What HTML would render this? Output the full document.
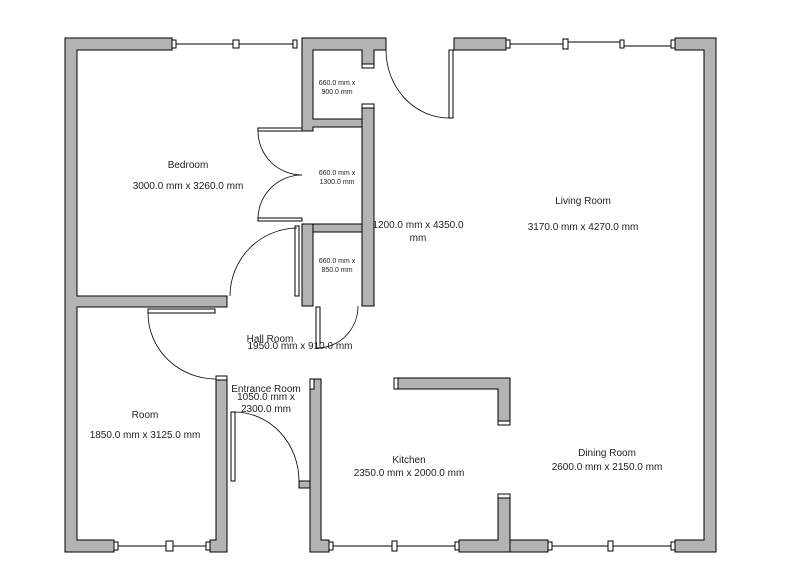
<!DOCTYPE html>
<html><head><style>body{margin:0;background:#fff}svg{display:block}text{font-family:"Liberation Sans",sans-serif;fill:#222;text-anchor:middle}</style></head><body>
<svg width="800" height="579" viewBox="0 0 800 579">
<g fill="#b3b3b3" stroke="#000" stroke-width="1">
<!-- outer left + top bedroom -->
<path d="M65,38 H172 V50 H77 V296 H227 V307 H77 V540 H114 V552 H65 Z"/>
<!-- closet block -->
<path d="M302,38 H386 V50 H374 V68 H362 V50 H313 V119 H362 V127 H313 V131 H302 Z"/>
<rect x="362" y="108" width="12" height="198"/>
<rect x="313" y="224" width="49" height="8"/>
<rect x="302" y="224" width="11" height="82"/>
<!-- top right -->
<rect x="454" y="38" width="52" height="12"/>
<path d="M675,38 H716 V552 H675 V540 H704 V50 H675 Z"/>
<!-- room/entrance wall -->
<path d="M216,379 H227 V552 H210 V540 H216 Z"/>
<path d="M310,379 H321 V540 H329 V552 H310 Z"/>
<!-- bottom kitchen/dining -->
<path d="M459,540 H498 V494 H510 V540 H548 V552 H459 Z"/>
<line x1="510" y1="540" x2="510" y2="552"/>
<!-- counter -->
<path d="M394,378 H510 V425 H498 V389 H394 Z"/>
</g>
<g fill="#fff" stroke="#000" stroke-width="1">
<rect x="362" y="104" width="12" height="4"/>
<rect x="498" y="421" width="12" height="4"/>
<rect x="498" y="494" width="12" height="4"/>
<rect x="394" y="378" width="4" height="11"/>
<rect x="362" y="64" width="12" height="4"/>
<rect x="216" y="376" width="11" height="4"/>
<rect x="310" y="379" width="4" height="10" fill="#fff"/>
<!-- door leaves -->
<rect x="449" y="50" width="4" height="68"/>
<rect x="258" y="128" width="44" height="3"/>
<rect x="258" y="218" width="44" height="3"/>
<rect x="295" y="226" width="4" height="70"/>
<rect x="148" y="309" width="67" height="4"/>
<rect x="231" y="412" width="4" height="69"/>
<rect x="316" y="307" width="4" height="41"/>
<rect x="299" y="481" width="11" height="7" fill="#b3b3b3"/>
</g>
<g fill="none" stroke="#000" stroke-width="0.8">
<path d="M386,50 A63,68 0 0 0 449,118"/>
<path d="M258,131 A44,44 0 0 0 302,175"/>
<path d="M258,218 A44,44 0 0 1 302,175"/>
<path d="M297,228 A68,68 0 0 0 230,296"/>
<path d="M148,313 A68,66 0 0 0 216,379"/>
<path d="M235,412 A65,69 0 0 1 299,481"/>
<path d="M318,348 A41,42 0 0 0 358,306"/>
</g>
<!-- windows -->
<g stroke="#000" stroke-width="1" fill="#fff">
<line x1="172" y1="44" x2="297" y2="44"/>
<rect x="172" y="40" width="4" height="8"/><rect x="233" y="40" width="6" height="8"/><rect x="293" y="40" width="4" height="8"/>
<line x1="506" y1="44" x2="565" y2="44"/><line x1="565" y1="42" x2="620" y2="42"/><line x1="620" y1="46" x2="675" y2="46"/>
<rect x="506" y="40" width="4" height="8"/><rect x="563" y="39" width="5" height="10"/><rect x="620" y="40" width="4" height="8"/><rect x="671" y="40" width="4" height="8"/>
<line x1="114" y1="546" x2="210" y2="546"/>
<rect x="114" y="542" width="4" height="8"/><rect x="166" y="541" width="7" height="10"/><rect x="206" y="542" width="4" height="8"/>
<line x1="329" y1="546" x2="459" y2="546"/>
<rect x="329" y="542" width="4" height="8"/><rect x="392" y="541" width="5" height="10"/><rect x="455" y="542" width="4" height="8"/>
<line x1="548" y1="546" x2="675" y2="546"/>
<rect x="548" y="542" width="4" height="8"/><rect x="608" y="541" width="5" height="10"/><rect x="671" y="542" width="4" height="8"/>
</g>
<g font-size="10">
<text x="188" y="168">Bedroom</text><text x="188" y="189">3000.0 mm x 3260.0 mm</text>
<text x="583" y="204">Living Room</text><text x="583" y="230">3170.0 mm x 4270.0 mm</text>
<text x="418" y="228">1200.0 mm x 4350.0</text><text x="418" y="241">mm</text>
<text x="145" y="418">Room</text><text x="145" y="438">1850.0 mm x 3125.0 mm</text>
<text x="409" y="463">Kitchen</text><text x="409" y="476">2350.0 mm x 2000.0 mm</text>
<text x="607" y="456">Dining Room</text><text x="607" y="470">2600.0 mm x 2150.0 mm</text>
<text x="266" y="392">Entrance Room</text><text x="266" y="400">1050.0 mm x</text><text x="266" y="412">2300.0 mm</text>
<text x="270" y="342">Hall Room</text><text x="300" y="349">1950.0 mm x 910.0 mm</text>
</g>
<g font-size="7">
<text x="337" y="85">660.0 mm x</text><text x="337" y="94">900.0 mm</text>
<text x="337" y="175">660.0 mm x</text><text x="337" y="184">1300.0 mm</text>
<text x="337" y="263">660.0 mm x</text><text x="337" y="272">850.0 mm</text>
</g>
</svg>
</body></html>
